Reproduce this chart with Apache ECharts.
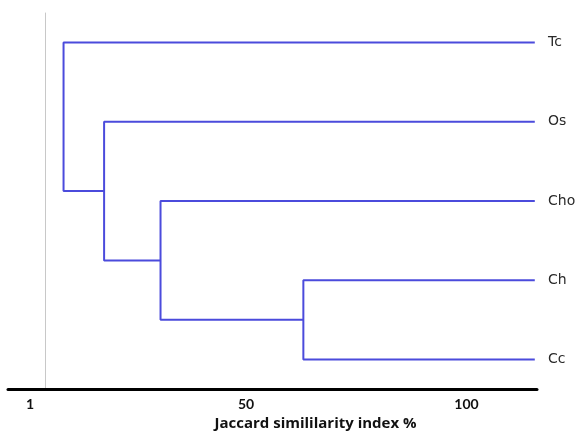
<!DOCTYPE html>
<html>
<head>
<meta charset="utf-8">
<script src="https://cdn.jsdelivr.net/npm/echarts@6/dist/echarts.min.js"></script>
<style>
  html, body { margin: 0; padding: 0; background: #fff; }
  #chart { width: 576px; height: 431px; }
</style>
</head>
<body>
<div id="chart"></div>
<script>
// leaves, top to bottom
const leaves = ['Tc', 'Os', 'Cho', 'Ch', 'Cc'];
// similarity level of the leaves (right end of the tree)
const leafLevel = 115.5;
// merges: [child a, child b, similarity %]  (children are leaves or 'm' + merge index)
const merges = [
    ['Ch', 'Cc', 63.0],
    ['Cho', 'm0', 30.6],
    ['Os', 'm1', 17.8],
    ['Tc', 'm2', 8.6]
];
const tickValues = [1, 50, 100];

// position of every node: x = similarity, y = leaf row
let nodes = {};
leaves.forEach((name, i) => { nodes[name] = { x: leafLevel, y: i }; });

let series = [];
merges.forEach((m, i) => {
    let a = nodes[m[0]];
    let b = nodes[m[1]];
    let h = m[2];
    nodes['m' + i] = { x: h, y: (a.y + b.y) / 2 };
    series.push({
        type: 'line',
        symbol: 'none',
        silent: true,
        lineStyle: { color: '#4b4bdc', width: 2 },
        data: [[a.x, a.y], [h, a.y], [h, b.y], [b.x, b.y]]
    });
});

const chart = echarts.init(document.getElementById('chart'), null, { renderer: 'canvas' });
chart.setOption({
    backgroundColor: '#fff',
    animation: false,
    grid: { left: 8, right: 39, top: 13, bottom: 41.5, outerBoundsMode: 'none' },
    xAxis: {
        type: 'value',
        min: -4,
        max: 116,
        name: 'Jaccard simililarity index %',
        nameLocation: 'middle',
        nameGap: 24,
        nameTextStyle: {
            fontFamily: 'Open Sans', fontWeight: 'bold', fontSize: 15, color: '#111',
            padding: [0, 0, 0, 86]
        },
        axisLine: { onZero: false, lineStyle: { color: '#000', width: 3 } },
        axisTick: { show: false },
        splitLine: { show: false },
        axisLabel: {
            customValues: tickValues,
            margin: 8,
            fontFamily: 'Lato', fontWeight: 'bold', fontSize: 14, color: '#111'
        }
    },
    yAxis: [{
        type: 'value',
        inverse: true,
        min: -0.372,
        max: 4.379,
        offset: -37.3,
        axisLine: { show: true, onZero: false, lineStyle: { color: '#c8c8c8', width: 1 } },
        axisTick: { show: false },
        axisLabel: { show: false },
        splitLine: { show: false }
    }, {
        type: 'value',
        inverse: true,
        position: 'right',
        min: -0.372,
        max: 4.379,
        axisLine: { show: false },
        axisTick: { show: false },
        splitLine: { show: false },
        axisLabel: {
            customValues: leaves.map((d, i) => i),
            formatter: v => leaves[v],
            margin: 11,
            fontFamily: 'DejaVu Sans', fontSize: 14, color: '#2a2a2a'
        }
    }],
    series: series
});
</script>
</body>
</html>
